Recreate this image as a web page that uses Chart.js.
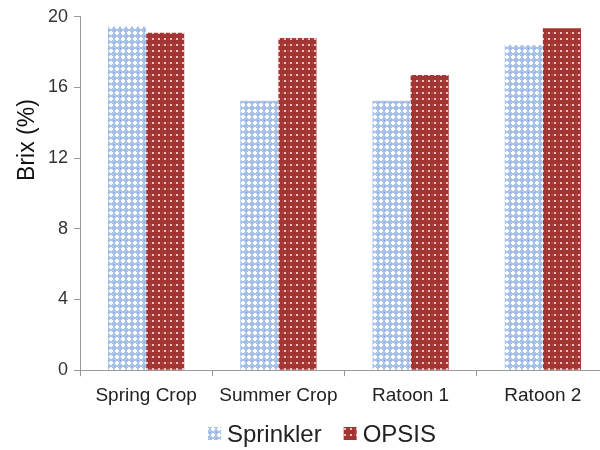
<!DOCTYPE html>
<html>
<head>
<meta charset="utf-8">
<script src="https://cdn.jsdelivr.net/npm/chart.js@4/dist/chart.umd.min.js"></script>
<style>
html,body{margin:0;padding:0;background:#fff;overflow:hidden;width:600px;height:450px;}
#wrap{position:absolute;left:0;top:0;width:620px;height:450px;}
</style>
</head>
<body>
<div id="wrap"><canvas id="c" width="620" height="450"></canvas></div>
<script>
const categories = ['Spring Crop', 'Summer Crop', 'Ratoon 1', 'Ratoon 2'];
const sprinkler = [19.45, 15.25, 15.25, 18.4];
const opsis = [19.1, 18.8, 16.7, 19.35];
const yTicks = [0, 4, 8, 12, 16, 20];
const yTitle = 'Brix (%)';

const ctx = document.getElementById('c').getContext('2d');

function makePattern(kind) {
  const t = document.createElement('canvas');
  t.width = 6; t.height = 6;
  const g = t.getContext('2d');
  if (kind === 'blue') {
    g.fillStyle = '#a9c3ea'; g.fillRect(0, 0, 6, 6);
    g.fillStyle = '#ffffff';
    g.fillRect(2, 1, 2, 4); g.fillRect(1, 2, 4, 2);
    g.fillStyle = '#85a6da';
    g.fillRect(0, 0, 1, 1);
  } else {
    g.fillStyle = '#a23532'; g.fillRect(0, 0, 6, 6);
    g.fillStyle = '#e6c3c2';
    g.fillRect(2, 2, 2, 2);
    g.fillStyle = '#b04a46';
    g.fillRect(0, 2, 1, 2);
  }
  return ctx.createPattern(t, 'repeat');
}

const patBlue = makePattern('blue');
const patRed = makePattern('red');

const customDecor = {
  id: 'customDecor',
  afterDraw(chart) {
    const c = chart.ctx;
    c.save();
    c.translate(28, 140);
    c.rotate(-Math.PI / 2);
    c.font = '23px "Liberation Sans"';
    c.fillStyle = '#111';
    c.textAlign = 'center';
    c.textBaseline = 'middle';
    c.fillText(yTitle, 0, 0);
    c.restore();

    c.save();
    c.font = '24px "Liberation Sans"';
    c.textBaseline = 'middle';
    c.textAlign = 'left';
    const items = chart.data.datasets.map(d => ({ label: d.label, fill: d.backgroundColor }));
    const box = 13, gapBT = 6, gapItems = 22;
    let total = 0;
    items.forEach((it, i) => {
      it.w = c.measureText(it.label).width;
      total += box + gapBT + it.w + (i < items.length - 1 ? gapItems : 0);
    });
    let x = 322 - total / 2;
    const yc = 434;
    items.forEach(it => {
      c.fillStyle = it.fill;
      c.fillRect(x, yc - 7, box, box);
      x += box + gapBT;
      c.fillStyle = '#222';
      c.fillText(it.label, x, yc + 1);
      x += it.w + gapItems;
    });
    c.restore();
  }
};

new Chart(ctx, {
  type: 'bar',
  data: {
    labels: categories,
    datasets: [
      { label: 'Sprinkler', data: sprinkler, backgroundColor: patBlue, borderWidth: 0 },
      { label: 'OPSIS', data: opsis, backgroundColor: patRed, borderWidth: 0 }
    ]
  },
  plugins: [customDecor],
  options: {
    responsive: false,
    animation: false,
    devicePixelRatio: 1,
    layout: { padding: { left: 0, right: 11, top: 7, bottom: 35 } },
    datasets: { bar: { categoryPercentage: 0.576, barPercentage: 1.0 } },
    plugins: {
      tooltip: { enabled: false },
      legend: { display: false }
    },
    scales: {
      x: {
        grid: { display: true, drawOnChartArea: false, drawTicks: true, tickLength: 6, color: '#999', offset: true },
        border: { display: true, color: '#999' },
        ticks: { font: { family: 'Liberation Sans', size: 19 }, color: '#222', padding: 8, maxRotation: 0 }
      },
      y: {
        min: 0, max: 20,
        afterBuildTicks: (s) => { s.ticks = yTicks.map(v => ({ value: v })); },
        afterFit: (s) => { s.width = 80; },
        grid: { display: true, drawOnChartArea: false, drawTicks: true, tickLength: 6, color: '#999' },
        border: { display: true, color: '#999' },
        ticks: { font: { family: 'Liberation Sans', size: 18 }, color: '#333', padding: 6 }
      }
    }
  }
});
</script>
</body>
</html>
